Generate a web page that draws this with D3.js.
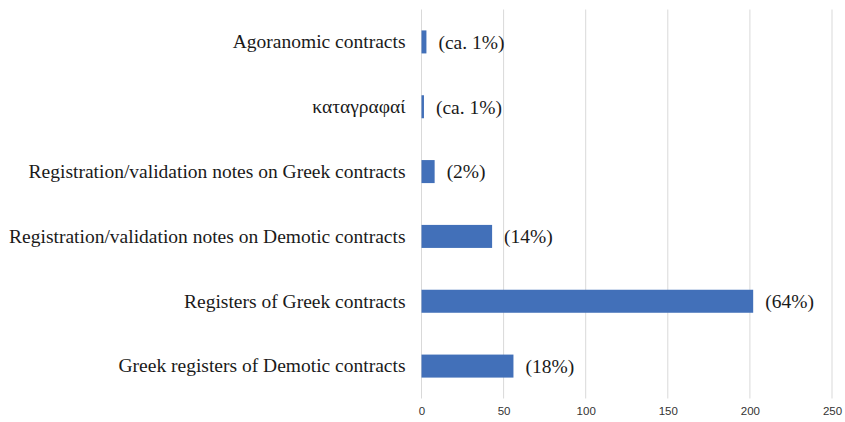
<!DOCTYPE html>
<html><head><meta charset="utf-8">
<script src="https://cdn.jsdelivr.net/npm/d3@7"></script>
<style>body{margin:0;background:#fff}svg{display:block}</style>
</head><body>
<script>
const categories = [
  "Agoranomic contracts",
  "καταγραφαί",
  "Registration/validation notes on Greek contracts",
  "Registration/validation notes on Demotic contracts",
  "Registers of Greek contracts",
  "Greek registers of Demotic contracts"
];
const values = [3, 1.5, 8, 43, 202, 56];
const valueLabels = ["(ca. 1%)", "(ca. 1%)", "(2%)", "(14%)", "(64%)", "(18%)"];
const xTicks = [0, 50, 100, 150, 200, 250];

const W = 845, H = 422;
const svg = d3.select("body").append("svg").attr("width", W).attr("height", H);

const x = d3.scaleLinear().domain([0, 250]).range([421.5, 832]);
const y = d3.scaleBand().domain(categories).range([9.5, 398.5]).paddingInner(0.645).paddingOuter(0.3225);

const serif = "'Liberation Serif', 'Times New Roman', serif";

// gridlines
svg.append("g").selectAll("line").data(xTicks).join("line")
  .attr("x1", d => x(d)).attr("x2", d => x(d))
  .attr("y1", 9.5).attr("y2", 398.5)
  .attr("stroke", "#d9d9d9").attr("stroke-width", 1);

// bars
svg.append("g").selectAll("rect").data(values).join("rect")
  .attr("x", x(0))
  .attr("y", (d, i) => y(categories[i]))
  .attr("width", d => x(d) - x(0))
  .attr("height", y.bandwidth())
  .attr("fill", "#4270b9");

// value labels
svg.append("g").selectAll("text").data(values).join("text")
  .attr("x", d => x(d) + 12)
  .attr("y", (d, i) => y(categories[i]) + y.bandwidth() / 2)
  .attr("dy", "0.35em")
  .attr("font-family", serif)
  .attr("font-size", 19.5)
  .attr("fill", "#1a1a1a")
  .text((d, i) => valueLabels[i]);

// y axis labels
const yAxis = d3.axisLeft(y).tickSize(0).tickPadding(16);
const gy = svg.append("g").attr("transform", `translate(${x(0)},0)`).call(yAxis);
gy.select(".domain").remove();
gy.selectAll("text")
  .attr("font-family", serif)
  .attr("font-size", 19.5)
  .attr("fill", "#1a1a1a");

// x axis
const xAxis = d3.axisBottom(x).tickValues(xTicks).tickSize(0).tickPadding(8);
const gx = svg.append("g").attr("transform", `translate(0,398.5)`).call(xAxis);
gx.select(".domain").remove();
gx.selectAll("text")
  .attr("font-family", "'Liberation Sans', Arial, sans-serif")
  .attr("font-size", 11.5)
  .attr("fill", "#333");
</script>
</body></html>
